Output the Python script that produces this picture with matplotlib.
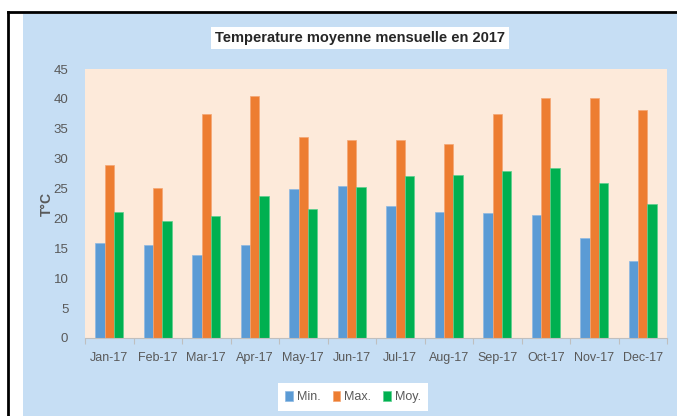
import numpy as np
import matplotlib.pyplot as plt
from matplotlib.patches import Rectangle
from matplotlib.lines import Line2D

months = ['Jan-17', 'Feb-17', 'Mar-17', 'Apr-17', 'May-17', 'Jun-17',
          'Jul-17', 'Aug-17', 'Sep-17', 'Oct-17', 'Nov-17', 'Dec-17']
t_min = [15.9, 15.5, 13.9, 15.5, 24.9, 25.5, 22.0, 21.0, 20.9, 20.6, 16.8, 12.8]
t_max = [28.9, 25.1, 37.4, 40.5, 33.6, 33.1, 33.1, 32.4, 37.4, 40.2, 40.2, 38.2]
t_moy = [21.0, 19.5, 20.4, 23.7, 21.5, 25.3, 27.1, 27.3, 28.0, 28.4, 26.0, 22.4]

plt.rcParams['font.family'] = ['Liberation Sans', 'DejaVu Sans']

fig = plt.figure(figsize=(6.77, 4.16), dpi=100)
fig.patch.set_facecolor('white')

# light blue panel and the black frame lines
fig.patches.append(Rectangle((23 / 677, 0), 1, 1 - 14 / 416, transform=fig.transFigure,
                             facecolor='#C6DEF4', edgecolor='none', zorder=-10))
fig.lines.append(Line2D([8 / 677, 1], [1 - 12 / 416, 1 - 12 / 416], transform=fig.transFigure,
                        color='black', lw=2))
fig.lines.append(Line2D([8 / 677, 8 / 677], [0, 1 - 12 / 416], transform=fig.transFigure,
                        color='black', lw=2))

ax = fig.add_axes([85 / 677, 1 - 338 / 416, 582 / 677, 269 / 416])
ax.set_zorder(5)
ax.set_facecolor('#FDEADA')

x = np.arange(len(months))
w = 0.195
ax.bar(x - w, t_min, w, color='#5B9BD5', edgecolor='#8DB9E3', lw=0.5, label='Min.')
ax.bar(x, t_max, w, color='#ED7D31', edgecolor='#F4A673', lw=0.5, label='Max.')
ax.bar(x + w, t_moy, w, color='#00B050', edgecolor='#5CD08F', lw=0.5, label='Moy.')

ax.set_xlim(-0.5, len(months) - 0.5)
ax.set_ylim(0, 45)
ax.set_yticks(range(0, 46, 5))
ax.tick_params(axis='y', length=0, colors='#595959', labelsize=9.5, pad=12)
ax.set_xticks(x)
ax.set_xticklabels(months)
ax.set_xticks(np.arange(-0.5, len(months), 1), minor=True)
ax.tick_params(axis='x', which='major', length=0, colors='#595959', labelsize=9, pad=10)
ax.tick_params(axis='x', which='minor', length=4, color='#BFBFBF', width=0.8)

for s in ['top', 'right', 'left']:
    ax.spines[s].set_visible(False)
ax.spines['bottom'].set_color('#BFBFBF')

ax.set_ylabel('T°C', fontsize=10, fontweight='bold', color='#595959', labelpad=0)

fig.text(360 / 677, 1 - 38 / 416, 'Temperature moyenne mensuelle en 2017', ha='center', va='center',
         fontsize=10.5, fontweight='bold', color='#262626',
         bbox=dict(boxstyle='square,pad=0.3', facecolor='white', edgecolor='none'))

leg = fig.legend(loc='center', bbox_to_anchor=(353 / 677, 1 - 397 / 416), ncol=3,
                 fontsize=9, frameon=True, fancybox=False, edgecolor='none', framealpha=1,
                 handlelength=0.6, handleheight=0.9, handletextpad=0.3, columnspacing=1.0,
                 borderpad=0.6)
for t in leg.get_texts():
    t.set_color('#595959')

fig.savefig('out.png', dpi=100)
